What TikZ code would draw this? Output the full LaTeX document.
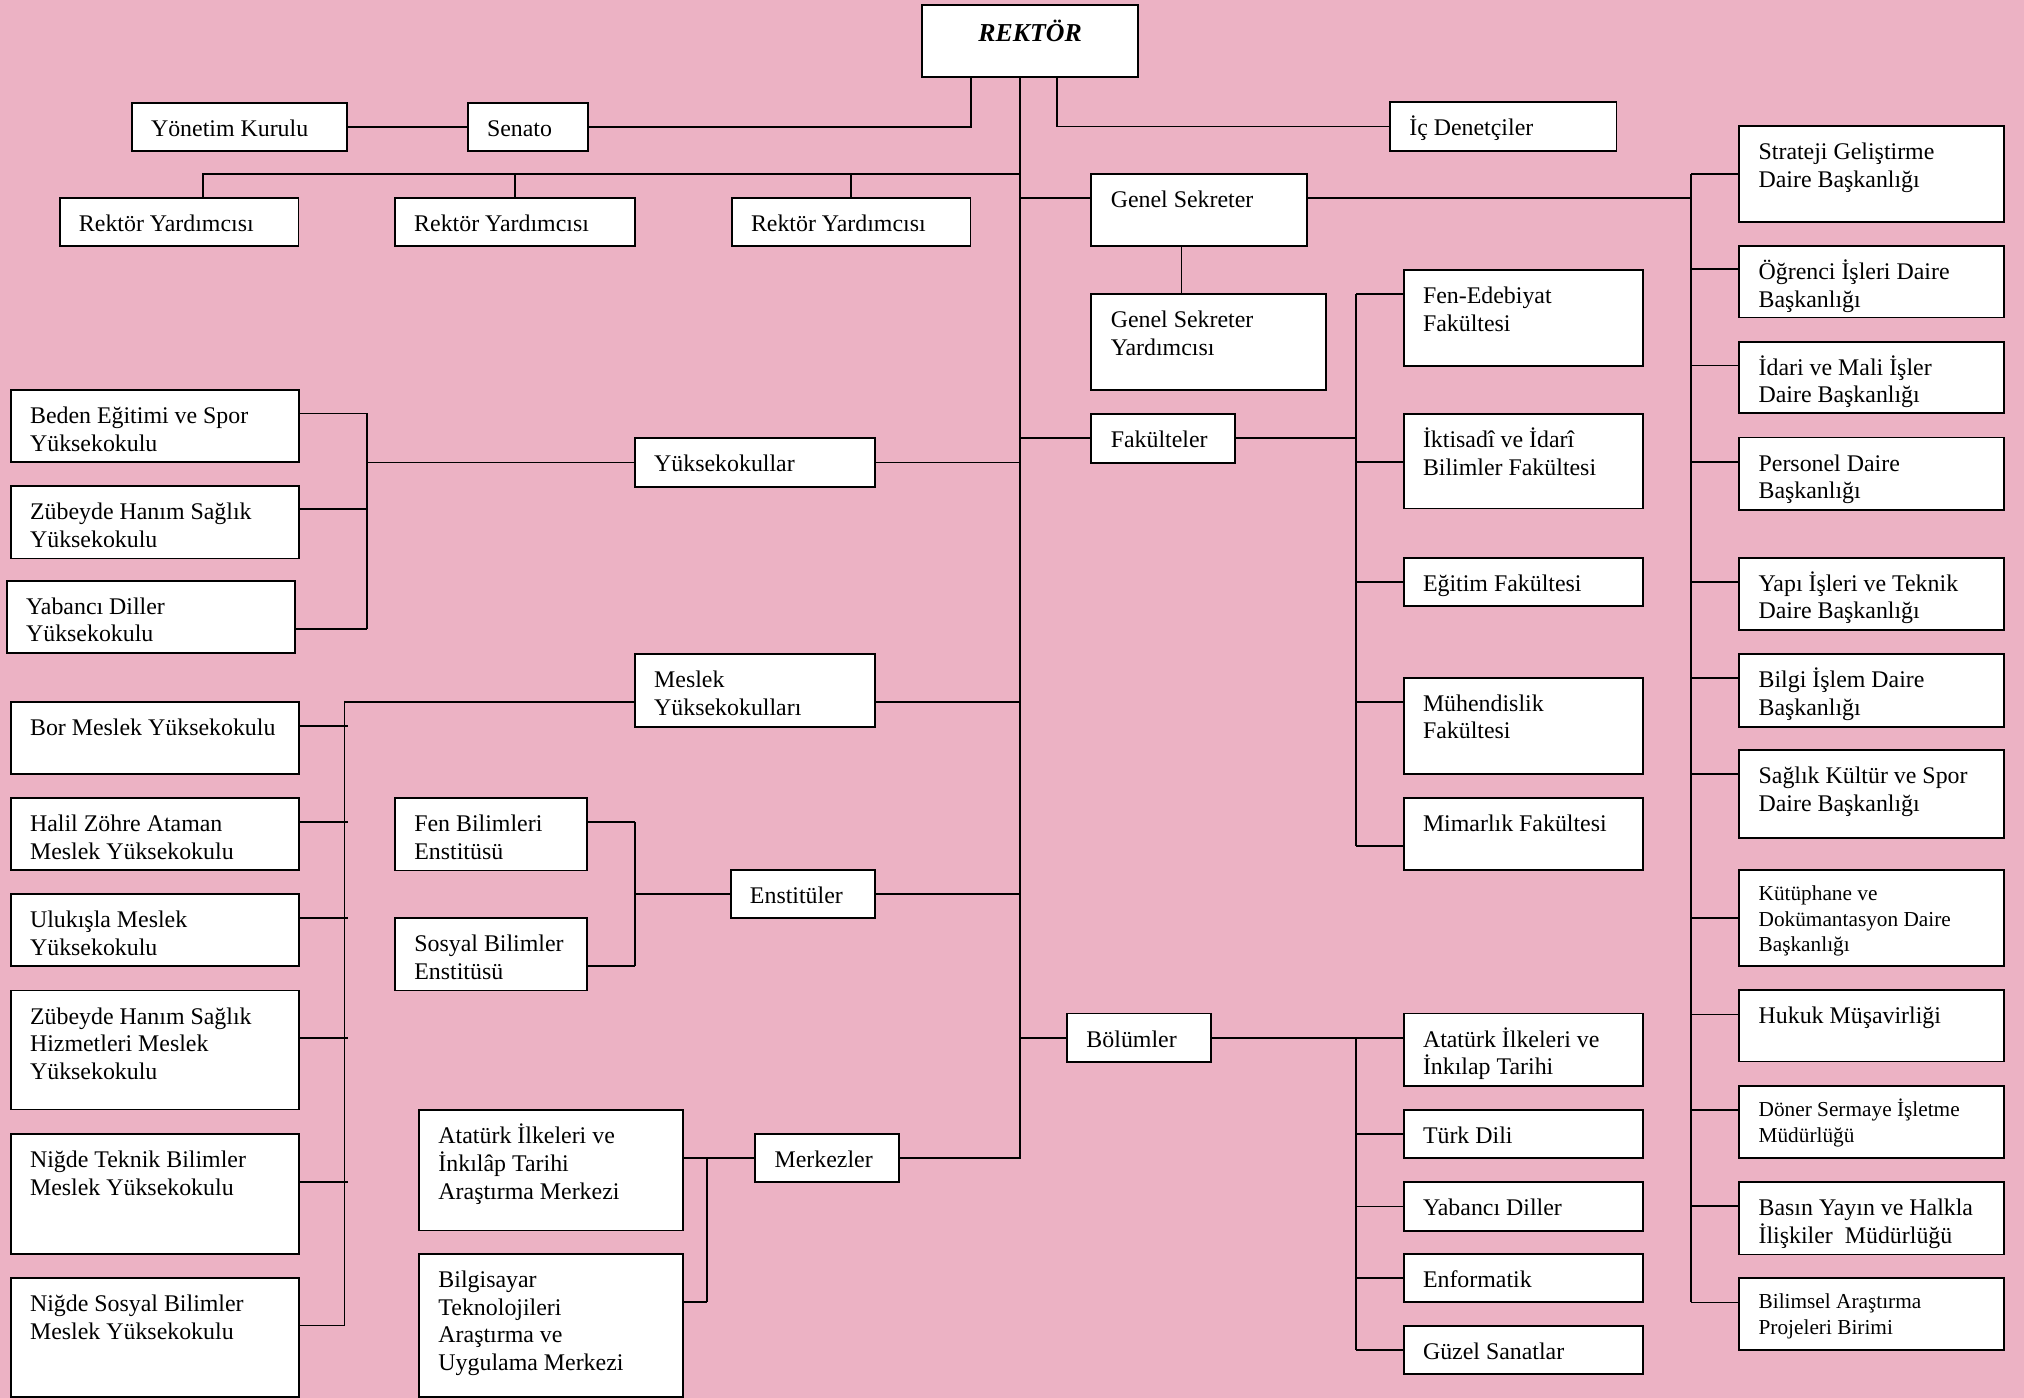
\documentclass[tikz,border=0pt]{standalone}
\usepackage{fontspec}
\setmainfont{Liberation Serif}
\definecolor{bgpink}{RGB}{236,178,196}
\tikzset{
 obox/.style={draw=black, fill=white, line width=1.4pt, anchor=north west, inner sep=0pt, outer sep=0pt},
 otxt/.style={anchor=north west, inner sep=0pt, outer sep=0pt, align=left, font=\fontsize{18.5}{21.5}\selectfont},
 stxt/.style={anchor=north west, inner sep=0pt, outer sep=0pt, align=left, font=\fontsize{16.5}{20}\selectfont},
 conn/.style={draw=black, line width=1.25pt},
}
\newcommand\orgbox[6]{\node[obox, minimum width=#4pt, minimum height=#5pt] (#1) at (#2,#3) {};
 \node[otxt] (#1-t) at ([xshift=15pt,yshift=-9pt]#1.north west) {\rule{0pt}{17pt}#6};}
\newcommand\orgboxs[6]{\node[obox, minimum width=#4pt, minimum height=#5pt] (#1) at (#2,#3) {};
 \node[stxt] (#1-t) at ([xshift=15pt,yshift=-8.5pt]#1.north west) {\rule{0pt}{15pt}#6};}
\newcommand\tickW[4]{\path ([yshift=-#2pt]#1.north west) coordinate (#4); \draw[conn] (#4) -- (#4 -| #3);}
\newcommand\tickE[4]{\path ([yshift=-#2pt]#1.north east) coordinate (#4); \draw[conn] (#4) -- (#4 -| #3);}
\begin{document}
\begin{tikzpicture}[x=1pt,y=-1pt]
\useasboundingbox (0,0) rectangle (1568,1083);
\fill[bgpink] (0,0) rectangle (1568,1083);
% top
\node[obox, minimum width=167.2pt, minimum height=56.1pt] (rektor) at (714.4,3.6) {};
\node[anchor=base, inner sep=0pt, font=\fontsize{20}{24}\selectfont] (rektor-t) at ([yshift=-28.5pt]rektor.north) {\textbf{\textit{REKTÖR}}};
\orgbox{yk}{102}{79.5}{166.6}{37.5}{Yönetim Kurulu}
\orgbox{senato}{362.3}{79.5}{93.1}{37.5}{Senato}
\orgbox{ic}{1076.8}{79.3}{175.5}{37.7}{İç Denetçiler}
\orgbox{ry1}{46.2}{153.1}{185}{37.5}{Rektör Yardımcısı}
\orgbox{ry2}{305.9}{153.1}{186.2}{37.5}{Rektör Yardımcısı}
\orgbox{ry3}{566.8}{153.1}{185}{37.5}{Rektör Yardımcısı}
\orgbox{gs}{845.5}{134.8}{167}{55.8}{Genel Sekreter}
\orgbox{gsy}{845.5}{227.8}{181.7}{74.3}{Genel Sekreter\\Yardımcısı}
\orgbox{fak}{845.5}{320.7}{111.3}{37.7}{Fakülteler}
% faculties
\orgbox{fe}{1087.4}{209.2}{185.6}{74.1}{Fen-Edebiyat\\Fakültesi}
\orgbox{iib}{1087.4}{320.7}{185.6}{73.3}{İktisadî ve İdarî\\Bilimler Fakültesi}
\orgbox{egt}{1087.4}{432}{185.6}{37.6}{Eğitim Fakültesi}
\orgbox{muh}{1087.4}{525}{185.6}{74.7}{Mühendislik\\Fakültesi}
\orgbox{mim}{1087.4}{618}{185.6}{56}{Mimarlık Fakültesi}
% right column
\orgbox{str}{1347.4}{97.6}{204.9}{74.1}{Strateji Geliştirme\\Daire Başkanlığı}
\orgbox{ogr}{1347.4}{190.6}{204.9}{55.4}{Öğrenci İşleri Daire\\Başkanlığı}
\orgbox{ida}{1347.4}{264.7}{204.9}{55.5}{İdari ve Mali İşler\\Daire Başkanlığı}
\orgbox{per}{1347.4}{339}{204.9}{56}{Personel Daire\\Başkanlığı}
\orgbox{yapi}{1347.4}{432}{204.9}{56}{Yapı İşleri ve Teknik\\Daire Başkanlığı}
\orgbox{bilgi}{1347.4}{506.7}{204.9}{56.3}{Bilgi İşlem Daire\\Başkanlığı}
\orgbox{sks}{1347.4}{581}{204.9}{68}{Sağlık Kültür ve Spor\\Daire Başkanlığı}
\orgboxs{kut}{1347.4}{673.9}{204.9}{74.5}{Kütüphane ve\\Dokümantasyon Daire\\Başkanlığı}
\orgbox{huk}{1347.4}{767}{204.9}{55.3}{Hukuk Müşavirliği}
\orgboxs{don}{1347.4}{841.3}{204.9}{56}{Döner Sermaye İşletme\\Müdürlüğü}
\orgbox{bas}{1347.4}{915.7}{204.9}{56.1}{Basın Yayın ve Halkla\\İlişkiler~~Müdürlüğü}
\orgboxs{bil}{1347.4}{990.2}{204.9}{55.5}{Bilimsel Araştırma\\Projeleri Birimi}
% departments
\orgbox{bol}{826.7}{785.2}{111.3}{37.4}{Bölümler}
\orgbox{ata}{1087.4}{785.2}{185.6}{56.4}{Atatürk İlkeleri ve\\İnkılap Tarihi}
\orgbox{turk}{1087.4}{859.7}{185.6}{37.6}{Türk Dili}
\orgbox{yab}{1087.4}{915.7}{185.6}{37.7}{Yabancı Diller}
\orgbox{enf}{1087.4}{971.5}{185.6}{37.1}{Enformatik}
\orgbox{guz}{1087.4}{1027.3}{185.6}{36.9}{Güzel Sanatlar}
% left
\orgbox{beden}{8.3}{302.1}{223.6}{55.8}{Beden Eğitimi ve Spor\\Yüksekokulu}
\orgbox{zby}{8.3}{376.5}{223.6}{56.1}{Zübeyde Hanım Sağlık\\Yüksekokulu}
\orgbox{yd}{5.2}{449.8}{223.6}{56.3}{Yabancı Diller\\Yüksekokulu}
\orgbox{yo}{491.8}{339.3}{186.2}{37.7}{Yüksekokullar}
\orgbox{myo}{491.8}{506.7}{186.2}{56.3}{Meslek\\Yüksekokulları}
\orgbox{bor}{8.3}{543.8}{223.6}{55.7}{Bor Meslek Yüksekokulu}
\orgbox{hal}{8.3}{618.3}{223.6}{55.7}{Halil Zöhre Ataman\\Meslek Yüksekokulu}
\orgbox{ulu}{8.3}{692.5}{223.6}{56}{Ulukışla Meslek\\Yüksekokulu}
\orgbox{zsh}{8.3}{767.3}{223.6}{92.2}{Zübeyde Hanım Sağlık\\Hizmetleri Meslek\\Yüksekokulu}
\orgbox{nt}{8.3}{878.7}{223.6}{92.6}{Niğde Teknik Bilimler\\Meslek Yüksekokulu}
\orgbox{ns}{8.3}{990.1}{223.6}{92}{Niğde Sosyal Bilimler\\Meslek Yüksekokulu}
\orgbox{fbe}{306}{618.3}{149}{56.1}{Fen Bilimleri\\Enstitüsü}
\orgbox{sbe}{306}{711.2}{149}{56.1}{Sosyal Bilimler\\Enstitüsü}
\orgbox{enst}{566}{674}{112}{37.2}{Enstitüler}
\orgbox{ataM}{324.7}{860.2}{204.4}{93}{Atatürk İlkeleri ve\\İnkılâp Tarihi\\Araştırma Merkezi}
\orgbox{bilM}{324.7}{971.3}{204.4}{110.7}{Bilgisayar\\Teknolojileri\\Araştırma ve\\Uygulama Merkezi}
\orgbox{merk}{585.1}{878.7}{111.6}{36.9}{Merkezler}
% vertical bus coordinates
\path ([xshift=75.6pt]rektor.south west) coordinate (tTop);
\coordinate (rV) at (1310,0);
\coordinate (fV) at (1050.5,0);
\coordinate (yV) at (284.3,0);
\coordinate (mV) at (267,0);
\coordinate (mT) at (269.8,0);
\coordinate (eV) at (491.8,0);
\coordinate (kV) at (547.8,0);
\coordinate (ryBus) at (790,134.8);
% rektor links
\draw[conn] (yk.east) -- (senato.west);
\draw[conn] (senato.east) -| ([xshift=37.6pt]rektor.south west);
\draw[conn] ([xshift=104.3pt]rektor.south west) |- (ic.west);
\draw[conn] (tTop) |- (merk.east);
\draw[conn] (ryBus) -| ([xshift=110.9pt]ry1.north west);
\draw[conn] (ry2.north) -- (ry2.north |- ryBus);
\draw[conn] (ry3.north) -- (ry3.north |- ryBus);
% genel sekreter
\tickW{gs}{18.4}{tTop}{gsL}
\tickE{gs}{18.4}{rV}{gsR}
\path ([xshift=69.8pt]gs.south west) coordinate (gsD);
\draw[conn] (gsD) -- (gsD |- gsy.north);
% right column
\tickW{str}{37.05}{rV}{strP}
\tickW{ogr}{18}{rV}{ogrP}
\tickW{ida}{18.6}{rV}{idaP}
\tickW{per}{18.9}{rV}{perP}
\tickW{yapi}{19}{rV}{yapiP}
\tickW{bilgi}{18.6}{rV}{bilgiP}
\tickW{sks}{18.6}{rV}{sksP}
\tickW{kut}{37.1}{rV}{kutP}
\tickW{huk}{18.8}{rV}{hukP}
\tickW{don}{18.7}{rV}{donP}
\tickW{bas}{18.8}{rV}{basP}
\tickW{bil}{18.8}{rV}{bilP}
\draw[conn] (strP -| rV) -- (bilP -| rV);
% faculties
\draw[conn] (fak.west) -- (fak.west -| tTop);
\draw[conn] (fak.east) -- (fak.east -| fV);
\tickW{fe}{18.6}{fV}{feP}
\tickW{iib}{37.2}{fV}{iibP}
\tickW{egt}{19}{fV}{egtP}
\tickW{muh}{18.8}{fV}{muhP}
\tickW{mim}{37.4}{fV}{mimP}
\draw[conn] (feP -| fV) -- (mimP -| fV);
% yuksekokullar
\draw[conn] (yo.east) -- (yo.east -| tTop);
\draw[conn] (yo.west) -- (yo.west -| yV);
\tickE{beden}{18.1}{yV}{bedenP}
\tickE{zby}{17.8}{yV}{zbyP}
\tickE{yd}{37.7}{yV}{ydP}
\draw[conn] (bedenP -| yV) -- (ydP -| yV);
% meslek yuksekokullari
\path ([yshift=-37.1pt]myo.north west) coordinate (myoL);
\path ([yshift=-37.1pt]myo.north east) coordinate (myoR);
\draw[conn] (myoL) -- (myoL -| mV);
\draw[conn] (myoR) -- (myoR -| tTop);
\tickE{bor}{18.6}{mT}{borP}
\tickE{hal}{18.5}{mT}{halP}
\tickE{ulu}{18.7}{mT}{uluP}
\tickE{zsh}{36.9}{mT}{zshP}
\tickE{nt}{36.9}{mT}{ntP}
\tickE{ns}{36.9}{mV}{nsP}
\draw[conn] ([yshift=1pt]myoL -| mV) -- (nsP -| mV);
% enstituler
\draw[conn] (enst.east) -- (enst.east -| tTop);
\draw[conn] (enst.west) -- (enst.west -| eV);
\tickE{fbe}{18.5}{eV}{fbeP}
\tickE{sbe}{37.3}{eV}{sbeP}
\draw[conn] (fbeP -| eV) -- (sbeP -| eV);
% bolumler
\draw[conn] (bol.west) -- (bol.west -| tTop);
\draw[conn] (bol.east) -- (bol.east -| ata.west);
\tickW{turk}{18.8}{fV}{turkP}
\tickW{yab}{18.85}{fV}{yabP}
\tickW{enf}{18.55}{fV}{enfP}
\tickW{guz}{18.45}{fV}{guzP}
\draw[conn] (bol.east -| fV) -- (guzP -| fV);
% merkezler
\draw[conn] (merk.west) -- (merk.west -| ataM.east);
\tickE{bilM}{37.2}{kV}{bilMP}
\draw[conn] (merk.west -| kV) -- (bilMP -| kV);
\end{tikzpicture}
\end{document}
